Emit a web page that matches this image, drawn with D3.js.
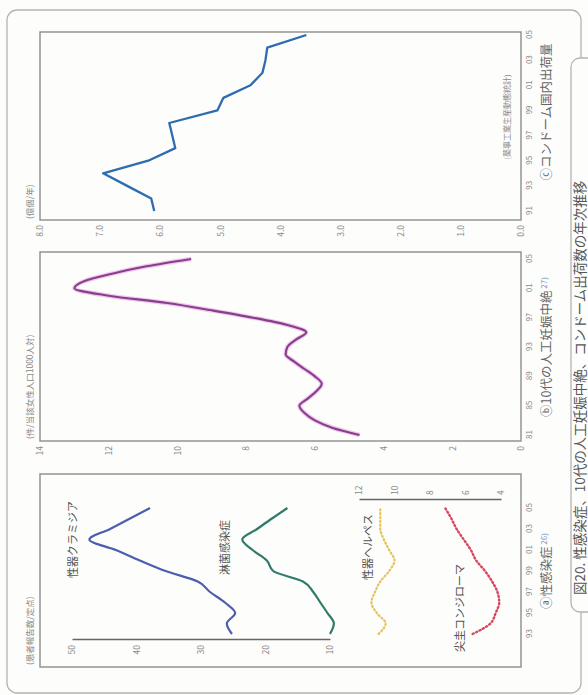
<!DOCTYPE html>
<html>
<head>
<meta charset="utf-8">
<script src="https://cdn.jsdelivr.net/npm/d3@7/dist/d3.min.js"></script>
<style>
  body { margin: 0; background: #fff; }
  text { font-family: "Noto Sans CJK JP", "Noto Sans", sans-serif; }
</style>
</head>
<body>
<svg id="chart"></svg>
<script>
// ---- data ----
var stdYears = [1993, 1994, 1995, 1996, 1997, 1998, 1999, 2000, 2001, 2002, 2003, 2004, 2005];
var chlamydia = [25.2, 26.0, 24.7, 26.3, 28.6, 30.5, 35.5, 39.5, 43.2, 47.3, 44.1, 41.0, 37.9];
var gonorrhea = [10.0, 9.4, 10.4, 11.5, 12.6, 14.2, 18.8, 19.8, 22.0, 23.6, 21.3, 19.0, 16.6];
var herpes = [10.9, 10.5, 11.0, 11.3, 11.1, 10.8, 10.3, 10.0, 10.3, 10.6, 10.8, 10.8, 10.8];
var condyloma = [5.6, 4.6, 4.3, 4.1, 4.2, 4.5, 4.9, 5.4, 5.7, 6.1, 6.5, 6.8, 7.15];

var abortionYears = [1981, 1982, 1983, 1984, 1985, 1986, 1987, 1988, 1989, 1990, 1991, 1992, 1993,
                     1994, 1995, 1996, 1997, 1998, 1999, 2000, 2001, 2002, 2003, 2004, 2005];
var abortion = [4.7, 5.5, 6.0, 6.3, 6.45, 6.2, 5.95, 5.8, 6.0, 6.3, 6.6, 6.85, 6.8,
                6.55, 6.25, 6.8, 7.8, 9.0, 10.3, 12.0, 13.0, 12.7, 11.9, 10.9, 9.6];

var condomYears = [1991, 1992, 1993, 1994, 1995, 1996, 1997, 1998, 1999, 2000, 2001, 2002, 2003, 2004, 2005];
var condom = [6.1, 6.15, 6.55, 6.95, 6.2, 5.75, 5.8, 5.85, 5.05, 4.95, 4.5, 4.3, 4.25, 4.22, 3.57];

var stdTicks = [1993, 1995, 1997, 1999, 2001, 2003, 2005];
var abortionTicks = [1981, 1985, 1989, 1993, 1997, 2001, 2005];
var condomTicks = [1991, 1993, 1995, 1997, 1999, 2001, 2003, 2005];

var W = 588, H = 695;
// the scan is turned a quarter turn, so draw upright (695 x 588) and rotate
var svg = d3.select('#chart').attr('width', W).attr('height', H);
svg.append('rect').attr('width', W).attr('height', H).attr('fill', '#fdfdfc');

var g = svg.append('g').attr('transform', 'translate(0,' + H + ') rotate(-90)');

var frameTop = 40, frameBottom = 521;
var gray = '#8c8c8c';

// outer rounded border and caption tab
g.append('rect')
  .attr('x', 2).attr('y', 7).attr('width', 683).attr('height', 574)
  .attr('rx', 10)
  .attr('fill', 'none').attr('stroke', '#b4b4b4').attr('stroke-width', 1.3);

g.append('rect')
  .attr('x', 83).attr('y', 571).attr('width', 554).attr('height', 60)
  .attr('rx', 9)
  .attr('fill', '#fdfdfc').attr('stroke', '#b4b4b4').attr('stroke-width', 1.3);

g.append('text')
  .attr('x', 100).attr('y', 585)
  .attr('font-size', 13.5).attr('fill', '#555')
  .text('図20. 性感染症、10代の人工妊娠中絶、コンドーム出荷数の年次推移');

function frame(x0, x1) {
  g.append('rect')
    .attr('x', x0).attr('y', frameTop)
    .attr('width', x1 - x0).attr('height', frameBottom - frameTop)
    .attr('fill', 'none').attr('stroke', gray).attr('stroke-width', 1.4);
}

function yearAxis(xScale, ticks) {
  var axis = d3.axisBottom(xScale)
    .tickValues(ticks)
    .tickSize(0)
    .tickFormat(function (d) { return d3.format('02')(d % 100); });
  var ax = g.append('g')
    .attr('transform', 'translate(0,' + (frameBottom + 2) + ')')
    .call(axis);
  ax.select('.domain').remove();
  ax.selectAll('text').attr('font-size', 8).attr('fill', '#888').attr('font-family', 'DejaVu Sans');
}

function valueAxis(yScale, x, ticks, fmt, side) {
  var axis = (side === 'left' ? d3.axisLeft(yScale) : d3.axisRight(yScale))
    .tickValues(ticks)
    .tickSize(0)
    .tickPadding(5)
    .tickFormat(fmt);
  var ax = g.append('g')
    .attr('transform', 'translate(' + x + ',0)')
    .call(axis);
  ax.selectAll('text').attr('font-size', 8.5).attr('fill', '#888').attr('font-family', 'DejaVu Sans');
  return ax;
}

function unitLabel(x, txt) {
  g.append('text')
    .attr('x', x).attr('y', 33)
    .attr('font-size', 8.5).attr('fill', '#888')
    .text(txt);
}

function panelTitle(cx, mark, txt, note) {
  var t = g.append('text')
    .attr('x', cx).attr('y', 551)
    .attr('text-anchor', 'middle')
    .attr('font-size', 12.5).attr('fill', '#666');
  t.append('tspan').text(mark + txt);
  t.append('tspan').attr('font-size', 8).attr('fill', '#7b9ac8').attr('dy', -4).text(' ' + note);
}

function line(xs, ys, xScale, yScale, curve) {
  return d3.line()
    .x(function (d, i) { return xScale(xs[i]); })
    .y(function (d) { return yScale(d); })
    .curve(curve)(ys);
}

// ---- panel a : 性感染症 ----
var xA = d3.scaleLinear().domain([1993, 2005]).range([61, 187]);
var yA = d3.scaleLinear().domain([10, 50]).range([330, 72]);
var yA2 = d3.scaleLinear().domain([4, 12]).range([501, 359]);

frame(28, 221);
unitLabel(30, '(患者報告数/定点)');
yearAxis(xA, stdTicks);

var axA = valueAxis(yA, 55, [10, 20, 30, 40, 50], d3.format('d'), 'left');
axA.select('.domain').attr('stroke', '#666').attr('stroke-width', 1.3);
var axA2 = valueAxis(yA2, 195, [4, 6, 8, 10, 12], d3.format('d'), 'right');
axA2.select('.domain').attr('stroke', '#666').attr('stroke-width', 1.3);

g.append('path')
  .attr('d', line(stdYears, chlamydia, xA, yA, d3.curveMonotoneX))
  .attr('fill', 'none').attr('stroke', '#4b5fae').attr('stroke-width', 2.2);
g.append('path')
  .attr('d', line(stdYears, gonorrhea, xA, yA, d3.curveMonotoneX))
  .attr('fill', 'none').attr('stroke', '#2f7a68').attr('stroke-width', 2.2);
g.append('path')
  .attr('d', line(stdYears, herpes, xA, yA2, d3.curveMonotoneX))
  .attr('fill', 'none').attr('stroke', '#e6c25c').attr('stroke-width', 2.2)
  .attr('stroke-dasharray', '1.2,2.6').attr('stroke-linecap', 'round');
g.append('path')
  .attr('d', line(stdYears, condyloma, xA, yA2, d3.curveMonotoneX))
  .attr('fill', 'none').attr('stroke', '#d8465f').attr('stroke-width', 2.4)
  .attr('stroke-dasharray', '1.2,2.6').attr('stroke-linecap', 'round');

var seriesLabels = [
  {x: 117, y: 77, t: '性器クラミジア'},
  {x: 120, y: 229, t: '淋菌感染症'},
  {x: 115, y: 372, t: '性器ヘルペス'},
  {x: 43, y: 464, t: '尖圭コンジローマ'}
];
g.selectAll('.series-label')
  .data(seriesLabels)
  .enter()
  .append('text')
  .attr('class', 'series-label')
  .attr('x', function (d) { return d.x; })
  .attr('y', function (d) { return d.y; })
  .attr('font-size', 11).attr('fill', '#555')
  .text(function (d) { return d.t; });

panelTitle(124, 'ⓐ', '性感染症', '26)');

// ---- panel b : 10代の人工妊娠中絶 ----
var xB = d3.scaleLinear().domain([1981, 2005]).range([260, 436]);
var yB = d3.scaleLinear().domain([0, 14]).range([frameBottom, frameTop]);

frame(254, 443);
unitLabel(256, '(件/当該女性人口1000人対)');
yearAxis(xB, abortionTicks);
valueAxis(yB, 254, [0, 2, 4, 6, 8, 10, 12, 14], d3.format('d'), 'left')
  .select('.domain').remove();

g.append('path')
  .attr('d', line(abortionYears, abortion, xB, yB, d3.curveMonotoneX))
  .attr('fill', 'none').attr('stroke', '#f2c6ef').attr('stroke-width', 4.5);
g.append('path')
  .attr('d', line(abortionYears, abortion, xB, yB, d3.curveMonotoneX))
  .attr('fill', 'none').attr('stroke', '#86408a').attr('stroke-width', 2.1);

panelTitle(348, 'ⓑ', '10代の人工妊娠中絶', '27)');

// ---- panel c : コンドーム国内出荷量 ----
var xC = d3.scaleLinear().domain([1991, 2005]).range([484, 660]);
var yC = d3.scaleLinear().domain([0, 8]).range([frameBottom, frameTop]);

frame(475, 663);
unitLabel(476, '(億個/年)');
yearAxis(xC, condomTicks);
valueAxis(yC, 475, [0, 1, 2, 3, 4, 5, 6, 7, 8], d3.format('.1f'), 'left')
  .select('.domain').remove();

g.append('path')
  .attr('d', line(condomYears, condom, xC, yC, d3.curveLinear))
  .attr('fill', 'none').attr('stroke', '#2d6cae').attr('stroke-width', 2.3)
  .attr('stroke-linejoin', 'round');

g.append('text')
  .attr('x', 578).attr('y', 510)
  .attr('text-anchor', 'middle')
  .attr('font-size', 8).attr('fill', '#888')
  .text('(薬事工業生産動態統計)');

g.append('text')
  .attr('x', 583).attr('y', 551)
  .attr('text-anchor', 'middle')
  .attr('font-size', 12.5).attr('fill', '#666')
  .text('ⓒコンドーム国内出荷量');
</script>
</body>
</html>
